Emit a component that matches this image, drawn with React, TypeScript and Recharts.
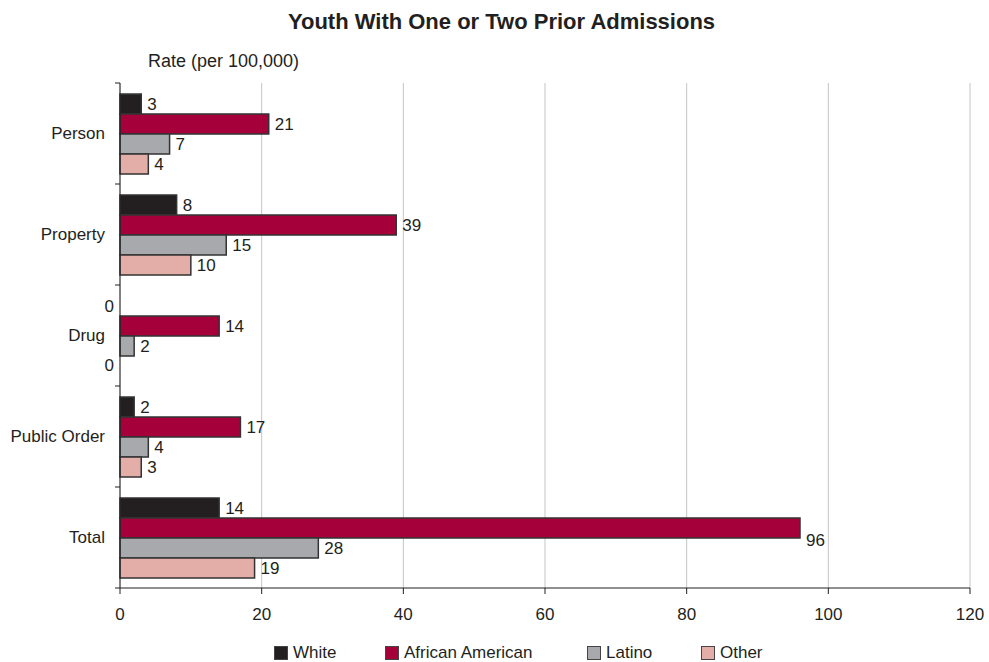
import React from "react";
import { Bar, BarChart, CartesianGrid, LabelList, XAxis, YAxis } from "recharts";

const categories = ["Person", "Property", "Drug", "Public Order", "Total"];
const white = [3, 8, 0, 2, 14];
const africanAmerican = [21, 39, 14, 17, 96];
const latino = [7, 15, 2, 4, 28];
const other = [4, 10, 0, 3, 19];
const xTicks = [0, 20, 40, 60, 80, 100, 120];

const seriesInfo = [
  { key: "white", name: "White", color: "#231f20", values: white },
  { key: "africanAmerican", name: "African American", color: "#a6003a", values: africanAmerican },
  { key: "latino", name: "Latino", color: "#a7a9ac", values: latino },
  { key: "other", name: "Other", color: "#e3aea8", values: other },
];

const data = categories.map((category, i) => ({
  category,
  white: white[i],
  africanAmerican: africanAmerican[i],
  latino: latino[i],
  other: other[i],
}));

const maxValue = Math.max(...white, ...africanAmerican, ...latino, ...other);

const W = 989;
const H = 662;
const TOP = 83;
const BOTTOM = 74; // space below plot (axis + legend)
const AXIS_W = 120;
const RIGHT = 19;
const GAP = 0.11;
const band = (H - TOP - BOTTOM) / categories.length;
const slot = (band * (1 - 2 * GAP)) / seriesInfo.length;
const ink = "#231f20";
const font = "'Liberation Sans', Arial, sans-serif";

function CategoryTick(props: any) {
  const { x, y, payload, index } = props;
  const lx = x + 10;
  const top = y - band / 2;
  return (
    <g>
      <line x1={lx} x2={lx + 5} y1={top} y2={top} stroke={ink} />
      {index === categories.length - 1 && (
        <line x1={lx} x2={lx + 5} y1={y + band / 2} y2={y + band / 2} stroke={ink} />
      )}
      <text x={x} y={y} dy="0.35em" textAnchor="end" fontSize={17} fill={ink} fontFamily={font}>
        {payload.value}
      </text>
      {/* zero values get no bar, so their label sits just left of the axis */}
      {seriesInfo.map((s, j) =>
        s.values[index] === 0 ? (
          <text
            key={s.key}
            x={lx - 1}
            y={top + band * GAP + slot * (j + 0.5)}
            dy="0.35em"
            textAnchor="end"
            fontSize={17}
            fill={ink}
            fontFamily={font}
          >
            0
          </text>
        ) : null
      )}
    </g>
  );
}

function ValueLabel(props: any) {
  const { x, y, width, height, value } = props;
  if (!value) return null;
  const cy = y + height / 2;
  // the largest bar's label sits a bit lower, as in the source
  const shift = value === maxValue ? 12 : 0;
  return (
    <text x={x + width + 6} y={cy + shift} dy="0.35em" fontSize={17} fill={ink} fontFamily={font}>
      {value}
    </text>
  );
}

function LegendRow() {
  const lefts = [274, 385, 587, 701];
  return (
    <>
      {seriesInfo.map((s, i) => (
        <div
          key={s.key}
          style={{ position: "absolute", left: lefts[i], top: 643, display: "flex", alignItems: "center", fontSize: 17, color: ink }}
        >
          <span style={{ display: "inline-block", width: 12, height: 12, background: s.color, border: "1px solid #444", marginRight: 5 }} />
          {s.name}
        </div>
      ))}
    </>
  );
}

export default function App() {
  return (
    <div style={{ position: "absolute", left: 0, top: 0, width: W, height: H, fontFamily: font, background: "#fff" }}>
      <div style={{ position: "absolute", left: 0, width: W, top: 9, textAlign: "center", paddingLeft: 14, boxSizing: "border-box", fontWeight: "bold", fontSize: 22, color: ink }}>
        Youth With One or Two Prior Admissions
      </div>
      <div style={{ position: "absolute", left: 148, top: 51, fontSize: 18, color: ink }}>Rate (per 100,000)</div>
      <BarChart
        width={W}
        height={H}
        data={data}
        layout="vertical"
        margin={{ top: TOP, right: RIGHT, bottom: BOTTOM - 30, left: 0 }}
        barCategoryGap={`${GAP * 100}%`}
        barGap={0}
      >
        <CartesianGrid horizontal={false} stroke="#c4c4c4" />
        <XAxis
          type="number"
          domain={[0, 120]}
          ticks={xTicks}
          height={30}
          tickSize={6}
          tickMargin={14}
          stroke={ink}
          tick={{ fontSize: 17, fill: ink, fontFamily: font }}
        />
        <YAxis
          type="category"
          dataKey="category"
          width={AXIS_W}
          tickLine={false}
          tickSize={5}
          tickMargin={10}
          stroke={ink}
          tick={<CategoryTick />}
        />
        {seriesInfo.map((s) => (
          <Bar key={s.key} dataKey={s.key} name={s.name} fill={s.color} stroke="#333" strokeWidth={1.5} isAnimationActive={false}>
            <LabelList dataKey={s.key} content={<ValueLabel />} />
          </Bar>
        ))}
      </BarChart>
      <LegendRow />
    </div>
  );
}
